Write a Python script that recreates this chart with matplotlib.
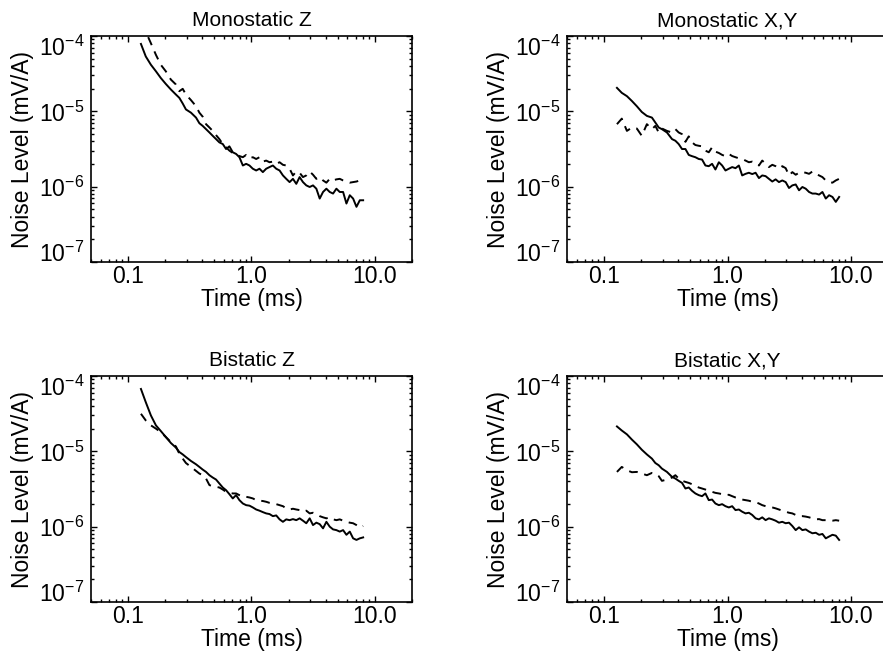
"""Noise level vs time, four panels (monostatic / bistatic, Z and X,Y)"""

import matplotlib
matplotlib.use("Agg")
import matplotlib.pyplot as plt
from matplotlib.ticker import FixedLocator, FixedFormatter

plt.rcParams['font.family'] = ['Liberation Sans', 'DejaVu Sans']
plt.rcParams['mathtext.fontset'] = 'custom'
plt.rcParams['mathtext.rm'] = 'Liberation Sans'
plt.rcParams['mathtext.it'] = 'Liberation Sans'

# time gates (ms), shared by all curves
time_ms = [0.127, 0.139, 0.153, 0.168, 0.184, 0.202, 0.222, 0.244, 0.260, 0.277,
           0.294, 0.323, 0.355, 0.378, 0.402, 0.428, 0.456, 0.485, 0.516, 0.549,
           0.585, 0.622, 0.662, 0.705, 0.750, 0.798, 0.851, 0.905, 0.963, 1.025,
           1.091, 1.161, 1.236, 1.315, 1.400, 1.490, 1.587, 1.689, 1.798, 1.913,
           2.036, 2.167, 2.307, 2.455, 2.613, 2.781, 2.962, 3.152, 3.355, 3.571,
           3.801, 4.046, 4.306, 4.583, 4.878, 5.192, 5.527, 5.882, 6.261, 6.664,
           7.093, 7.549, 8.035]

# Monostatic Z
mono_z_solid = [7.85e-5, 5.35e-5, 4.15e-5, 3.40e-5, 2.77e-5, 2.31e-5, 1.95e-5, 1.67e-5, 1.51e-5, 1.27e-5,
                1.06e-5, 9.6e-6, 8.26e-6, 6.95e-6, 6.41e-6, 5.80e-6, 5.24e-6, 4.73e-6, 4.28e-6, 3.87e-6,
                3.68e-6, 3.16e-6, 3.43e-6, 2.86e-6, 2.72e-6, 2.46e-6, 1.91e-6, 2.01e-6, 1.91e-6, 1.73e-6,
                1.64e-6, 1.73e-6, 1.56e-6, 1.73e-6, 1.82e-6, 1.91e-6, 1.73e-6, 1.64e-6, 1.41e-6, 1.27e-6,
                1.15e-6, 1.27e-6, 1.09e-6, 1.34e-6, 1.15e-6, 1.04e-6, 9.9e-7, 1.04e-6, 9.4e-7, 6.95e-7,
                8.5e-7, 9.4e-7, 8.5e-7, 8.1e-7, 9.4e-7, 8.5e-7, 8.5e-7, 5.97e-7, 7.7e-7, 6.95e-7,
                5.4e-7, 6.6e-7, 6.6e-7]
mono_z_dashed = [1.47e-4, 1.14e-4, 8.0e-5, 5.62e-5, 4.15e-5, 3.40e-5, 2.64e-5, 2.27e-5, 1.85e-5, 1.99e-5,
                 1.67e-5, 1.41e-5, 1.17e-5, 9.6e-6, 8.5e-6, 6.75e-6, 6.1e-6, 5.5e-6, 4.83e-6, 4.28e-6,
                 3.68e-6, 3.33e-6, 3.01e-6, 2.80e-6, 2.64e-6, 2.55e-6, 2.46e-6, 2.64e-6, 2.38e-6, 2.46e-6,
                 2.33e-6, 2.46e-6, 2.15e-6, 2.22e-6, 2.11e-6, 2.15e-6, 2.01e-6, 2.11e-6, 1.95e-6, 1.91e-6,
                 1.73e-6, 1.41e-6, 1.59e-6, 1.53e-6, 1.34e-6, 1.41e-6, 1.59e-6, 1.44e-6, 1.27e-6, 1.34e-6,
                 1.21e-6, 1.13e-6, 1.27e-6, 1.21e-6, 1.25e-6, 1.27e-6, 1.21e-6, 1.17e-6, 1.13e-6, 1.15e-6,
                 1.17e-6, 1.21e-6, 1.15e-6]

# Monostatic X,Y
mono_xy_solid = [2.05e-5, 1.76e-5, 1.59e-5, 1.37e-5, 1.17e-5, 9.8e-6, 8.7e-6, 8.26e-6, 7.1e-6, 6.1e-6,
                 5.8e-6, 5.24e-6, 4.28e-6, 4.07e-6, 3.68e-6, 3.16e-6, 3.16e-6, 2.64e-6, 2.54e-6, 2.46e-6,
                 2.33e-6, 2.29e-6, 1.91e-6, 1.87e-6, 2.01e-6, 1.69e-6, 2.11e-6, 1.91e-6, 1.64e-6, 1.73e-6,
                 1.82e-6, 1.76e-6, 1.91e-6, 1.41e-6, 1.48e-6, 1.53e-6, 1.47e-6, 1.53e-6, 1.30e-6, 1.41e-6,
                 1.38e-6, 1.27e-6, 1.17e-6, 1.25e-6, 1.15e-6, 1.21e-6, 1.15e-6, 9.6e-7, 1.04e-6, 1.07e-6,
                 8.95e-7, 9.9e-7, 9.4e-7, 8.5e-7, 8.1e-7, 8.1e-7, 7.85e-7, 8.5e-7, 6.95e-7, 7.7e-7,
                 7.3e-7, 6.28e-7, 7.3e-7]
mono_xy_dashed = [6.75e-6, 8.0e-6, 5.5e-6, 6.1e-6, 5.92e-6, 4.73e-6, 6.75e-6, 5.8e-6, 6.41e-6, 5.24e-6,
                  5.92e-6, 5.5e-6, 5.24e-6, 5.8e-6, 5.24e-6, 4.98e-6, 3.94e-6, 4.65e-6, 3.87e-6, 3.57e-6,
                  3.49e-6, 3.43e-6, 3.01e-6, 2.86e-6, 3.33e-6, 2.92e-6, 2.80e-6, 2.64e-6, 2.54e-6, 2.72e-6,
                  2.55e-6, 2.46e-6, 2.38e-6, 2.33e-6, 2.22e-6, 2.11e-6, 2.15e-6, 2.07e-6, 1.91e-6, 2.22e-6,
                  2.01e-6, 1.82e-6, 1.95e-6, 1.87e-6, 1.73e-6, 1.87e-6, 1.76e-6, 1.41e-6, 1.56e-6, 1.44e-6,
                  1.53e-6, 1.56e-6, 1.53e-6, 1.48e-6, 1.59e-6, 1.48e-6, 1.41e-6, 1.34e-6, 1.21e-6, 1.15e-6,
                  1.13e-6, 1.21e-6, 1.27e-6]

# Bistatic Z
bi_z_solid = [6.73e-5, 4.49e-5, 2.99e-5, 2.21e-5, 1.86e-5, 1.55e-5, 1.29e-5, 1.12e-5, 9.8e-6, 9.1e-6,
              8.4e-6, 7.45e-6, 6.73e-6, 6.21e-6, 5.73e-6, 5.33e-6, 4.82e-6, 4.49e-6, 4.22e-6, 3.74e-6,
              3.31e-6, 3.05e-6, 2.70e-6, 2.37e-6, 2.62e-6, 2.25e-6, 2.03e-6, 1.93e-6, 1.90e-6, 1.80e-6,
              1.69e-6, 1.63e-6, 1.56e-6, 1.50e-6, 1.47e-6, 1.38e-6, 1.41e-6, 1.25e-6, 1.16e-6, 1.25e-6,
              1.22e-6, 1.26e-6, 1.22e-6, 1.29e-6, 1.20e-6, 1.11e-6, 1.29e-6, 1.05e-6, 1.13e-6, 1.08e-6,
              9.5e-7, 1.16e-6, 1.0e-6, 9.2e-7, 9.0e-7, 8.6e-7, 9.0e-7, 7.8e-7, 8.6e-7, 7.0e-7,
              6.67e-7, 7.0e-7, 7.2e-7]
bi_z_dashed = [3.15e-5, 2.57e-5, 2.21e-5, 2.0e-5, 1.80e-5, 1.55e-5, 1.33e-5, 1.16e-5, 9.3e-6, 8.0e-6,
               7.0e-6, 6.21e-6, 5.5e-6, 5.07e-6, 4.82e-6, 4.35e-6, 3.56e-6, 3.45e-6, 3.38e-6, 3.31e-6,
               3.11e-6, 2.90e-6, 2.81e-6, 2.76e-6, 2.76e-6, 2.62e-6, 2.49e-6, 2.49e-6, 2.44e-6, 2.37e-6,
               2.25e-6, 2.21e-6, 2.19e-6, 2.14e-6, 2.07e-6, 2.03e-6, 1.99e-6, 1.93e-6, 1.87e-6, 1.75e-6,
               1.69e-6, 1.73e-6, 1.69e-6, 1.66e-6, 1.58e-6, 1.63e-6, 1.50e-6, 1.53e-6, 1.47e-6, 1.38e-6,
               1.33e-6, 1.29e-6, 1.33e-6, 1.25e-6, 1.22e-6, 1.25e-6, 1.20e-6, 1.16e-6, 1.13e-6, 1.11e-6,
               1.05e-6, 9.8e-7, 1.02e-6]

# Bistatic X,Y
bi_xy_solid = [2.14e-5, 1.89e-5, 1.68e-5, 1.43e-5, 1.24e-5, 1.05e-5, 9.1e-6, 8.0e-6, 7.0e-6, 6.53e-6,
               5.9e-6, 5.33e-6, 4.58e-6, 4.35e-6, 4.06e-6, 3.81e-6, 3.21e-6, 3.31e-6, 2.99e-6, 2.76e-6,
               2.62e-6, 2.54e-6, 2.76e-6, 2.25e-6, 2.29e-6, 2.03e-6, 1.93e-6, 1.99e-6, 1.87e-6, 1.80e-6,
               1.87e-6, 1.66e-6, 1.69e-6, 1.58e-6, 1.50e-6, 1.53e-6, 1.43e-6, 1.29e-6, 1.25e-6, 1.33e-6,
               1.22e-6, 1.29e-6, 1.25e-6, 1.20e-6, 1.13e-6, 1.16e-6, 1.11e-6, 1.13e-6, 1.02e-6, 9.0e-7,
               9.8e-7, 9.0e-7, 9.2e-7, 8.6e-7, 8.17e-7, 8.3e-7, 7.8e-7, 8.0e-7, 7.0e-7, 7.4e-7,
               7.8e-7, 7.6e-7, 6.67e-7]
bi_xy_dashed = [5.33e-6, 6.21e-6, 5.6e-6, 5.28e-6, 5.33e-6, 5.07e-6, 4.82e-6, 5.17e-6, 5.07e-6, 4.68e-6,
                4.06e-6, 4.22e-6, 4.49e-6, 4.82e-6, 4.35e-6, 4.06e-6, 3.93e-6, 3.81e-6, 3.66e-6, 3.45e-6,
                3.31e-6, 3.21e-6, 3.11e-6, 2.99e-6, 2.90e-6, 2.81e-6, 2.76e-6, 2.70e-6, 2.62e-6, 2.65e-6,
                2.54e-6, 2.44e-6, 2.37e-6, 2.29e-6, 2.25e-6, 2.21e-6, 2.14e-6, 2.12e-6, 2.03e-6, 1.93e-6,
                1.87e-6, 1.84e-6, 1.80e-6, 1.75e-6, 1.69e-6, 1.63e-6, 1.58e-6, 1.53e-6, 1.50e-6, 1.43e-6,
                1.38e-6, 1.38e-6, 1.36e-6, 1.33e-6, 1.29e-6, 1.25e-6, 1.26e-6, 1.22e-6, 1.22e-6, 1.20e-6,
                1.20e-6, 1.22e-6, 1.20e-6]

titles = ["Monostatic Z", "Monostatic X,Y", "Bistatic Z", "Bistatic X,Y"]
x_ticks = [0.1, 1.0, 10.0]
x_tick_labels = ["0.1", "1.0", "10.0"]
y_ticks = [1e-7, 1e-6, 1e-5, 1e-4]
y_tick_labels = [r"$10^{-7}$", r"$10^{-6}$", r"$10^{-5}$", r"$10^{-4}$"]

panels = [(mono_z_solid, mono_z_dashed), (mono_xy_solid, mono_xy_dashed),
          (bi_z_solid, bi_z_dashed), (bi_xy_solid, bi_xy_dashed)]

FONT_SIZE = 16.5
TITLE_SIZE = 15
W, H = 883, 666

# axes boxes in pixels: left, top (right panels run past the picture edge)
boxes = [(91, 36), (567, 36), (91, 376), (567, 376)]
AX_W, AX_H = 321, 226

fig = plt.figure(figsize=(W / 100, H / 100), dpi=100)

for i, ((left, top), title, (solid, dashed)) in enumerate(zip(boxes, titles, panels)):
    ax = fig.add_axes([left / W, 1 - (top + AX_H) / H, AX_W / W, AX_H / H])
    ax.plot(time_ms, solid, color='black', lw=1.4)
    ax.plot(time_ms, dashed, color='black', lw=1.4, linestyle=(0, (4.5, 3.5)))
    ax.set_xscale('log')
    ax.set_yscale('log')
    ax.set_xlim(0.05, 20)
    ax.set_ylim(1e-7, 1e-4)

    ax.xaxis.set_major_locator(FixedLocator(x_ticks))
    ax.xaxis.set_major_formatter(FixedFormatter(x_tick_labels))
    ax.yaxis.set_major_locator(FixedLocator(y_ticks))
    ax.yaxis.set_major_formatter(FixedFormatter(y_tick_labels))

    # right column is cut off by the picture edge, so its right ticks don't show
    ax.tick_params(which='both', direction='in', top=True, right=(i % 2 == 0),
                   labelsize=FONT_SIZE, width=1.0)
    ax.tick_params(which='major', length=4.5)
    ax.tick_params(which='minor', length=2.2)
    ax.tick_params(axis='y', pad=5)
    ax.tick_params(axis='x', pad=2)

    # end labels kept inside the frame, as in the original
    ylabels = ax.get_yticklabels()
    ylabels[0].set_verticalalignment('baseline')
    ylabels[-1].set_verticalalignment('top')

    for spine in ax.spines.values():
        spine.set_linewidth(1.2)

    ax.set_title(title, fontsize=TITLE_SIZE, pad=7)
    ax.set_xlabel("Time (ms)", fontsize=FONT_SIZE, labelpad=0)
    ax.set_ylabel("Noise Level (mV/A)", fontsize=FONT_SIZE, labelpad=3)

fig.savefig("out.png", dpi=100)
